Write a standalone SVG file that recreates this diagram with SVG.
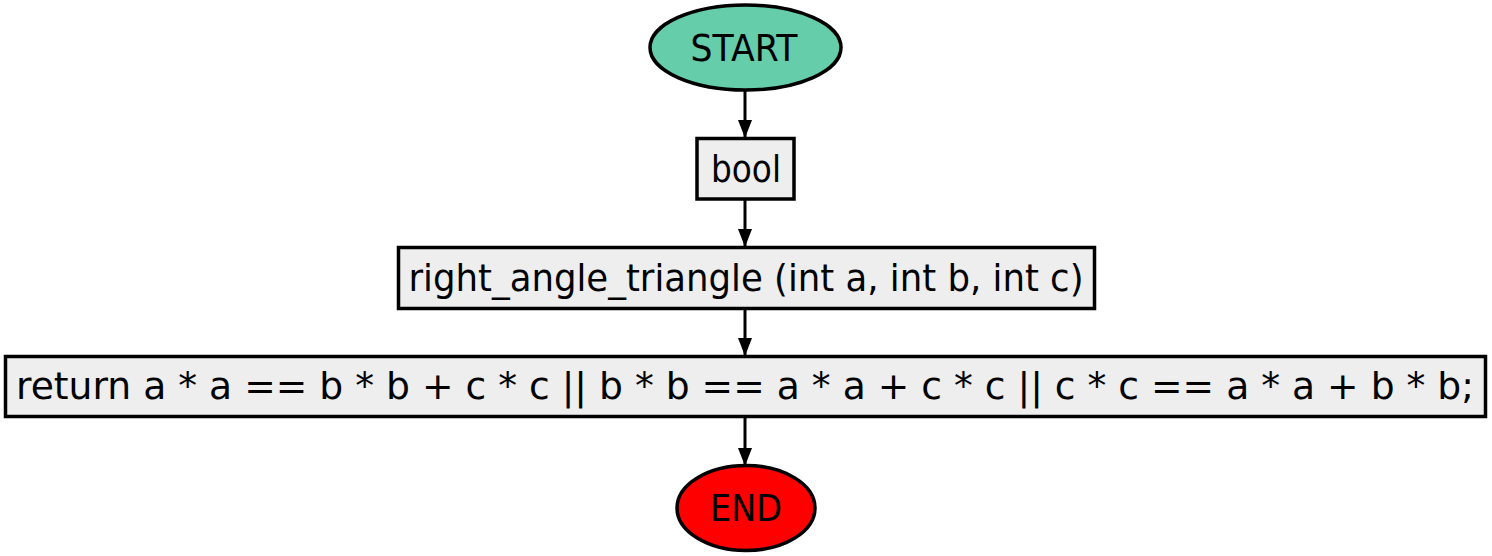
<svg xmlns="http://www.w3.org/2000/svg" width="1492" height="556" viewBox="0 0 1492 556">
<style>
.t{font-family:"DejaVu Sans","Verdana",sans-serif;font-size:38px;fill:#000;text-anchor:middle}
.box{fill:#eeeeee;stroke:#000;stroke-width:3.5}
.edge{stroke:#000;stroke-width:3;fill:none}
</style>
<defs>
<marker id="ah" markerWidth="18" markerHeight="14" refX="17" refY="7" orient="auto" markerUnits="userSpaceOnUse" viewBox="0 0 18 14">
<path d="M0,0 L18,7 L0,14 Z" fill="#000"/>
</marker>
</defs>
<rect width="1492" height="556" fill="#fff"/>
<g id="connectors">
<line class="edge" x1="745" y1="90" x2="745" y2="137" marker-end="url(#ah)"/>
<line class="edge" x1="745" y1="199" x2="745" y2="246" marker-end="url(#ah)"/>
<line class="edge" x1="745" y1="309" x2="745" y2="355" marker-end="url(#ah)"/>
<line class="edge" x1="745" y1="417" x2="745" y2="465" marker-end="url(#ah)"/>
</g>
<g id="start">
<ellipse cx="745.5" cy="47.5" rx="95.5" ry="42.5" fill="#66cdaa" stroke="#000" stroke-width="3.5"/>
<text class="t" x="744" y="61" textLength="107" lengthAdjust="spacingAndGlyphs">START</text>
</g>
<g id="bool">
<rect class="box" x="697" y="138.5" width="97" height="60.5"/>
<text class="t" x="746" y="182" textLength="70" lengthAdjust="spacingAndGlyphs">bool</text>
</g>
<g id="signature">
<rect class="box" x="398.5" y="247.5" width="696" height="61"/>
<text class="t" x="746" y="291" textLength="675" lengthAdjust="spacingAndGlyphs">right_angle_triangle (int a, int b, int c)</text>
</g>
<g id="return">
<rect class="box" x="5.5" y="356.5" width="1480" height="60"/>
<text class="t" x="745" y="399" textLength="1458" lengthAdjust="spacingAndGlyphs">return a * a == b * b + c * c || b * b == a * a + c * c || c * c == a * a + b * b;</text>
</g>
<g id="end">
<ellipse cx="746" cy="508" rx="69" ry="42.5" fill="#ff0000" stroke="#000" stroke-width="3.5"/>
<text class="t" x="746" y="521" textLength="72" lengthAdjust="spacingAndGlyphs">END</text>
</g>
</svg>
